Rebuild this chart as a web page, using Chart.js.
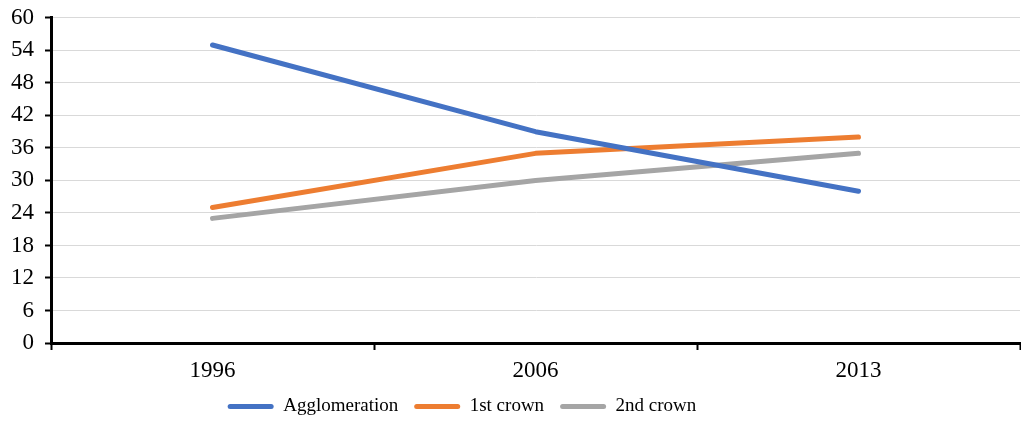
<!DOCTYPE html>
<html>
<head>
<meta charset="utf-8">
<script src="https://cdn.jsdelivr.net/npm/chart.js@4/dist/chart.umd.min.js"></script>
<style>
  html, body { margin: 0; padding: 0; background: #fff; }
  #wrap { width: 1021px; height: 421px; }
</style>
</head>
<body>
<div id="wrap"><canvas id="c" width="1021" height="421"></canvas></div>
<script>
// Years on the horizontal axis
const years = ['1996', '2006', '2013'];

// Share per zone (%)
const agglomeration = [55, 39, 28];
const firstCrown = [25, 35, 38];
const secondCrown = [23, 30, 35];

// Vertical axis range
const yMin = 0;
const yMax = 60;
const yStep = 6;

const serif = "'Liberation Serif', 'Times New Roman', serif";

// Move the bottom legend a little left of centre
const legendShift = {
  id: 'legendShift',
  afterLayout(chart) {
    const lg = chart.legend;
    if (lg) { lg.left -= 48; lg.right -= 48; }
  }
};

new Chart(document.getElementById('c'), {
  type: 'line',
  data: {
    labels: years,
    datasets: [
      { label: 'Agglomeration', data: agglomeration, borderColor: '#4472C4', backgroundColor: '#4472C4' },
      { label: '1st crown', data: firstCrown, borderColor: '#ED7D31', backgroundColor: '#ED7D31' },
      { label: '2nd crown', data: secondCrown, borderColor: '#A5A5A5', backgroundColor: '#A5A5A5' }
    ].map(d => Object.assign(d, {
      borderWidth: 5,
      borderCapStyle: 'round',
      borderJoinStyle: 'round',
      pointRadius: 0,
      pointHoverRadius: 0,
      tension: 0,
      fill: false
    }))
  },
  plugins: [legendShift],
  options: {
    responsive: false,
    animation: false,
    devicePixelRatio: 1,
    layout: { padding: { top: 15, right: 1, left: 0, bottom: -5 } },
    plugins: {
      tooltip: { enabled: false },
      legend: {
        position: 'bottom',
        labels: {
          font: { family: serif, size: 19 },
          color: '#000',
          boxWidth: 46,
          boxHeight: 5,
          padding: 16,
          useBorderRadius: true,
          borderRadius: 2.5,
          generateLabels(chart) {
            return chart.data.datasets.map((ds, i) => ({
              text: ds.label,
              fillStyle: ds.borderColor,
              strokeStyle: ds.borderColor,
              lineWidth: 0,
              fontColor: '#000',
              datasetIndex: i,
              hidden: false,
              borderRadius: 2.5
            }));
          }
        }
      }
    },
    scales: {
      x: {
        offset: true,
        afterFit(scale) { scale.height = 38; },
        grid: {
          offset: true,
          drawOnChartArea: false,
          drawTicks: true,
          tickLength: 7,
          tickColor: '#000',
          tickWidth: 2
        },
        border: { color: '#000', width: 3 },
        ticks: { font: { family: serif, size: 23 }, color: '#000', padding: 7 }
      },
      y: {
        min: yMin,
        max: yMax,
        afterFit(scale) { scale.width = 51; },
        ticks: { stepSize: yStep, font: { family: serif, size: 23, lineHeight: 0.6 }, color: '#000', padding: 11 },
        grid: {
          color: '#d9d9d9',
          lineWidth: 1,
          drawTicks: true,
          tickLength: 6,
          tickColor: '#000',
          tickWidth: 2
        },
        border: { color: '#000', width: 3 }
      }
    }
  }
});
</script>
</body>
</html>
